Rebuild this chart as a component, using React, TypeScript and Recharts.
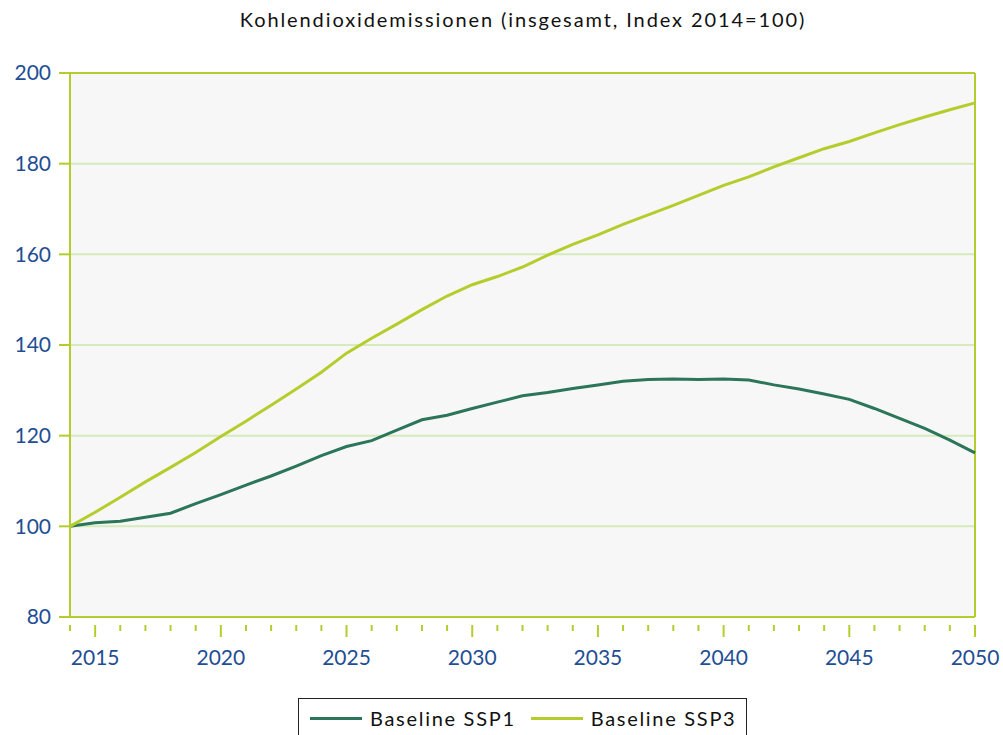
import { LineChart, Line, XAxis, YAxis, CartesianGrid, ReferenceLine } from 'recharts';

// Jahre und Indexwerte (2014 = 100)
const years = [
  2014, 2015, 2016, 2017, 2018, 2019, 2020, 2021, 2022, 2023, 2024, 2025,
  2026, 2027, 2028, 2029, 2030, 2031, 2032, 2033, 2034, 2035, 2036, 2037,
  2038, 2039, 2040, 2041, 2042, 2043, 2044, 2045, 2046, 2047, 2048, 2049, 2050,
];

const baselineSSP1 = [
  100, 100.8, 101.1, 102.0, 102.9, 105.0, 107.0, 109.1, 111.1, 113.3, 115.6, 117.6,
  118.9, 121.2, 123.5, 124.5, 126.0, 127.4, 128.8, 129.5, 130.4, 131.2, 132.0, 132.4,
  132.5, 132.4, 132.5, 132.3, 131.2, 130.3, 129.2, 128.0, 126.0, 123.8, 121.6, 119.0, 116.2,
];

const baselineSSP3 = [
  100, 103.1, 106.4, 109.8, 113.0, 116.3, 119.8, 123.2, 126.7, 130.3, 134.0, 138.2,
  141.5, 144.6, 147.8, 150.8, 153.3, 155.1, 157.2, 159.8, 162.2, 164.3, 166.6, 168.7,
  170.8, 173.0, 175.2, 177.1, 179.3, 181.3, 183.3, 184.9, 186.8, 188.6, 190.3, 191.9, 193.4,
];

const yTicks = [80, 100, 120, 140, 160, 180, 200];

const seriesNames = ['Baseline SSP1', 'Baseline SSP3'];

const data = years.map((year, i) => ({
  year,
  ssp1: baselineSSP1[i],
  ssp3: baselineSSP3[i],
}));

const FONT = 'Lato, "Open Sans", sans-serif';
const LIME = '#b5cd2c';
const DARK = '#2b7659';
const GRID = '#d6eabb';
const BLUE = '#1f4e94';

const YearTick = (props: any) => {
  const { x, y, payload } = props;
  const major = payload.value % 5 === 0;
  return (
    <g>
      <line x1={x} x2={x} y1={y} y2={y + (major ? 12 : 6)} stroke={LIME} strokeWidth={2} />
      {major && (
        <text x={x} y={y + 40} textAnchor="middle" fill={BLUE} fontSize={21} fontFamily={FONT}>
          {payload.value}
        </text>
      )}
    </g>
  );
};

const LegendBox = () => (
  <div
    style={{
      position: 'absolute',
      left: 298,
      top: 698,
      display: 'flex',
      alignItems: 'center',
      border: '1.5px solid #222',
      height: 40,
      width: 449,
      boxSizing: 'border-box',
      fontFamily: FONT,
      fontSize: 20,
      color: '#111',
      paddingLeft: 11,
    }}
  >
    <span style={{ display: 'inline-block', width: 52, height: 3, background: DARK, marginRight: 8 }} />
    <span style={{ letterSpacing: 1.7 }}>{seriesNames[0]}</span>
    <span style={{ display: 'inline-block', width: 52, height: 3, background: LIME, marginLeft: 15, marginRight: 8 }} />
    <span style={{ letterSpacing: 1.7 }}>{seriesNames[1]}</span>
  </div>
);

export default function App() {
  return (
    <div style={{ position: 'absolute', left: 0, top: 0, width: 1003, height: 735, background: '#fff', overflow: 'hidden' }}>
      <div
        style={{
          position: 'absolute',
          top: 7,
          left: 0,
          width: 1046,
          textAlign: 'center',
          fontFamily: FONT,
          fontSize: 20,
          letterSpacing: 1.9,
          color: '#111',
        }}
      >
        Kohlendioxidemissionen (insgesamt, Index 2014=100)
      </div>
      <LineChart width={1003} height={735} data={data} margin={{ top: 73, right: 28, bottom: 0, left: 10 }}>
        <CartesianGrid vertical={false} stroke={GRID} strokeWidth={2} fill="#f7f7f7" />
        <XAxis
          dataKey="year"
          type="number"
          domain={[2014, 2050]}
          ticks={years}
          interval={0}
          stroke={LIME}
          strokeWidth={2}
          tickLine={false}
          tick={<YearTick />}
          height={118}
        />
        <YAxis
          domain={[80, 200]}
          ticks={yTicks}
          width={60}
          stroke={LIME}
          strokeWidth={2}
          tickSize={11}
          tickMargin={8}
          tick={{ fill: BLUE, fontSize: 21, fontFamily: FONT }}
        />
        <ReferenceLine y={200} stroke={LIME} strokeWidth={2} />
        <ReferenceLine x={2050} stroke={LIME} strokeWidth={2} />
        <Line type="linear" dataKey="ssp1" name={seriesNames[0]} stroke={DARK} strokeWidth={3} dot={false} isAnimationActive={false} />
        <Line type="linear" dataKey="ssp3" name={seriesNames[1]} stroke={LIME} strokeWidth={3} dot={false} isAnimationActive={false} />
      </LineChart>
      <LegendBox />
    </div>
  );
}
